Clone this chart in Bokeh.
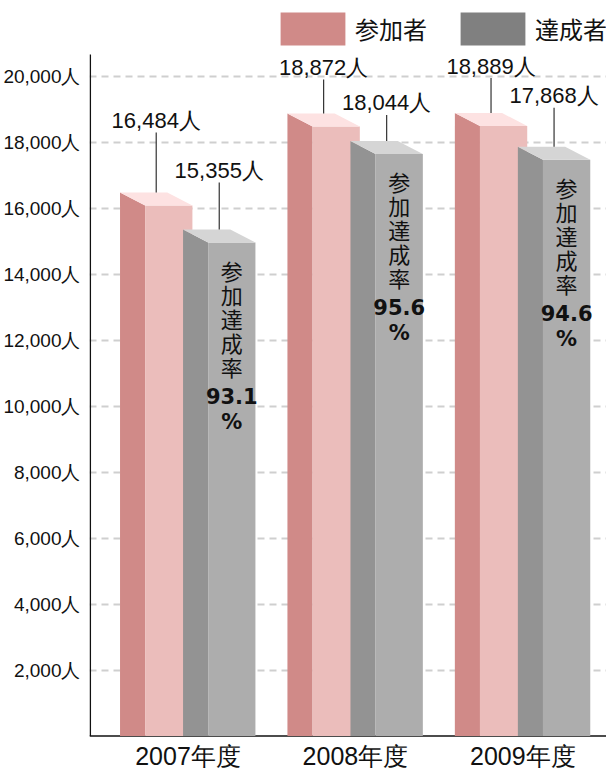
from bokeh.plotting import figure
from bokeh.models import Range1d, FixedTicker, Legend, LegendItem
from bokeh.core.properties import value
from bokeh.embed import file_html
from bokeh.resources import INLINE

# ---------------- data ----------------
years = ["2007年度", "2008年度", "2009年度"]
participants = [16484, 18872, 18889]
achievers = [15355, 18044, 17868]
rates = [93.1, 95.6, 94.6]
rate_title = "参加達成率"
series_names = ["参加者", "達成者"]
y_ticks = [2000, 4000, 6000, 8000, 10000, 12000, 14000, 16000, 18000, 20000]
y_tick_labels = ["2,000人", "4,000人", "6,000人", "8,000人", "10,000人",
                 "12,000人", "14,000人", "16,000人", "18,000人", "20,000人"]

# ---------------- layout ----------------
W, H = 606, 770
BL = 81
FW = W - BL
FH = H
PX_PER_GROUP = 170.0
Y_PER_PX = 2000 / 65.97
ZERO_FROM_TOP = 735.6      # px from frame top to value 0
AXIS_TOP_FROM_TOP = 54.0   # px from frame top to top of y axis line

def px_x(n):
    return n / PX_PER_GROUP

def px_y(n):
    return n * Y_PER_PX

x_start = -px_x(100)
x_end = x_start + px_x(FW)
x_range = Range1d(x_start, x_end)
y_range = Range1d(-px_y(FH - ZERO_FROM_TOP), px_y(ZERO_FROM_TOP))

DEPTH = px_x(25.5)
RISE = px_y(13)
FRONT = px_x(48)
series_offset = [px_x(-69), px_x(-5)]
label_offset_px = [[72, 46, 47], [59, 38, 51]]

colors = {
    "side": ["#d08a88", "#939393"],
    "front": ["#ebbdbb", "#adadad"],
    "top": ["#fde2e2", "#d5d5d5"],
}
legend_colors = ["#d08a88", "#808080"]

LABEL_FONT = "Liberation Sans"
CJK_FONT = "Noto Sans CJK JP"

p = figure(width=W, height=H, x_range=x_range, y_range=y_range,
           output_backend="svg", toolbar_location=None,
           min_border_left=BL, min_border_right=0,
           min_border_top=0, min_border_bottom=0)
p.outline_line_color = None
p.background_fill_color = "white"
p.border_fill_color = "white"

# grid
p.xgrid.visible = False
p.ygrid.ticker = FixedTicker(ticks=y_ticks)
p.ygrid.grid_line_color = "#cfcfcf"
p.ygrid.grid_line_dash = "7 5"
p.ygrid.grid_line_width = 2

# y axis (labels from the axis, line drawn to the axis top only)
p.yaxis.ticker = FixedTicker(ticks=y_ticks)
p.yaxis.major_label_overrides = {t: l for t, l in zip(y_ticks, y_tick_labels)}
p.yaxis.major_label_text_font = LABEL_FONT
p.yaxis.major_label_text_font_size = "19px"
p.yaxis.major_label_text_color = "#111111"
p.yaxis.major_label_standoff = 3
p.yaxis.major_tick_line_color = None
p.yaxis.minor_tick_line_color = None
p.yaxis.axis_line_color = None
p.xaxis.visible = False

y_axis_top = px_y(ZERO_FROM_TOP - AXIS_TOP_FROM_TOP)
p.segment(x0=[x_start + px_x(0.8)], y0=[0], x1=[x_start + px_x(0.8)], y1=[y_axis_top],
          line_color="#111111", line_width=1.5)
p.segment(x0=[x_start], y0=[0], x1=[x_end], y1=[0], line_color="#111111", line_width=1.5)

# category labels
x_ticks = list(range(len(years)))
p.text(x=x_ticks, y=[-px_y(19.5)] * len(years), text=years, text_align="center",
       text_baseline="middle", text_font=value(LABEL_FONT), text_font_size="25px",
       text_color="#111111")

# ---------------- 3D bars ----------------
series_values = [participants, achievers]
for s, vals in enumerate(series_values):
    side_xs, side_ys, front_xs, front_ys, top_xs, top_ys = [], [], [], [], [], []
    for i, v in enumerate(vals):
        xa = i + series_offset[s]
        side_xs.append([xa, xa, xa + DEPTH, xa + DEPTH])
        side_ys.append([0, v, v - RISE, 0])
        front_xs.append([xa + DEPTH, xa + DEPTH, xa + DEPTH + FRONT, xa + DEPTH + FRONT])
        front_ys.append([0, v - RISE, v - RISE, 0])
        top_xs.append([xa, xa + FRONT, xa + DEPTH + FRONT, xa + DEPTH])
        top_ys.append([v, v, v - RISE, v - RISE])
    p.patches(side_xs, side_ys, fill_color=colors["side"][s], line_color=None)
    p.patches(front_xs, front_ys, fill_color=colors["front"][s], line_color=None)
    p.patches(top_xs, top_ys, fill_color=colors["top"][s], line_color=None)

# value labels with leader lines
for s, vals in enumerate(series_values):
    lx, ly0, ly1, tx, ty, tt = [], [], [], [], [], []
    for i, v in enumerate(vals):
        xa = i + series_offset[s]
        cx = xa + (DEPTH + FRONT) / 2
        off = label_offset_px[s][i]
        lx.append(cx)
        ly0.append(v)
        ly1.append(v + px_y(off - 12))
        tx.append(cx)
        ty.append(v + px_y(off))
        tt.append(f"{v:,}人")
    p.segment(x0=lx, y0=ly0, x1=lx, y1=ly1, line_color="#333333", line_width=1.2)
    p.text(x=tx, y=ty, text=tt, text_align="center", text_baseline="middle",
           text_font=value(LABEL_FONT), text_font_size="22px", text_color="#111111")

# rate text inside achiever bars
cx_list, cy_list, ch_list = [], [], []
nx, ny, nt = [], [], []
for i, v in enumerate(achievers):
    xa = i + series_offset[1]
    cx = xa + DEPTH + FRONT / 2
    ftop = v - RISE
    for k, ch in enumerate(rate_title):
        cx_list.append(cx)
        cy_list.append(ftop - px_y(27 + 24 * k))
        ch_list.append(ch)
    base = 27 + 24 * (len(rate_title) - 1)
    nx += [cx, cx]
    ny += [ftop - px_y(base + 30), ftop - px_y(base + 56)]
    nt += [f"{rates[i]:.1f}", "%"]
p.text(x=cx_list, y=cy_list, text=ch_list, text_align="center", text_baseline="middle",
       text_font=value(CJK_FONT), text_font_size="22px", text_color="#111111")
p.text(x=nx, y=ny, text=nt, text_align="center", text_baseline="middle",
       text_font=value("DejaVu Sans"), text_font_style="bold",
       text_font_size="21px", text_color="#111111")

# ---------------- legend ----------------
# legend swatches: renderers with one point placed outside the visible ranges
dummies = []
off_x = x_end + 10
for c in legend_colors:
    r = p.quad(left=[off_x], right=[off_x + 1], top=[1], bottom=[0],
               fill_color=c, line_color=None)
    dummies.append(r)
GW, GH = 81, 41   # legend area swatches are drawn with a 10% inset
legend = Legend(items=[LegendItem(label=n, renderers=[r]) for n, r in zip(series_names, dummies)],
                orientation="horizontal", location=(183, FH - 49),
                glyph_width=GW, glyph_height=GH, label_standoff=2, spacing=25,
                padding=0, margin=0, border_line_color=None, background_fill_alpha=0,
                label_text_font=CJK_FONT, label_text_font_size="24px",
                label_text_color="#111111", label_height=GH)
p.add_layout(legend, "center")

open("out.html", "w").write(file_html(p, INLINE))
